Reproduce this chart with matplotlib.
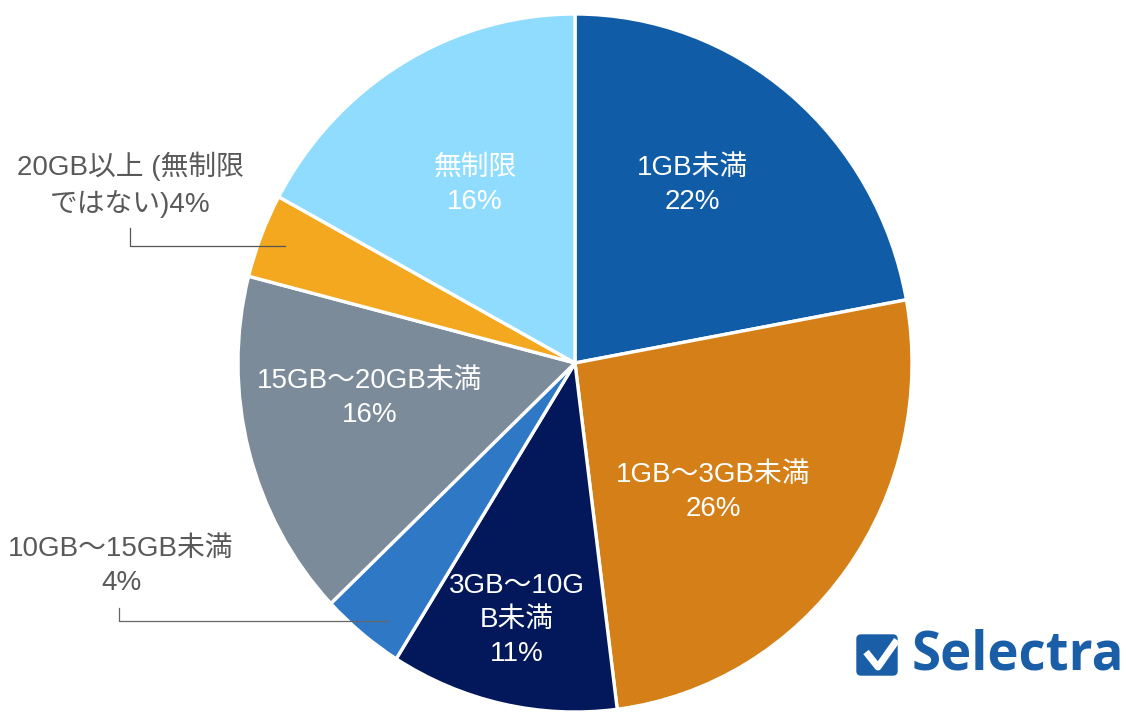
import matplotlib
matplotlib.use("Agg")
import matplotlib.pyplot as plt
from matplotlib.patches import FancyBboxPatch

plt.rcParams['font.family'] = ['Liberation Sans', 'Noto Sans CJK JP', 'DejaVu Sans']

# shares, printed labels are rounded differently
shares = [22.1, 25.9, 10.9, 4.0, 16.1, 3.9, 17.1]
labels = ["1GB未満\n22%", "1GB～3GB未満\n26%", "3GB～10G\nB未満\n11%", "10GB～15GB未満\n4%",
          "15GB～20GB未満\n16%", "20GB以上 (無制限\nではない)4%", "無制限\n16%"]
colors = ["#115ca6", "#d47f17", "#03185a", "#2f78c6", "#7c8b99", "#f4a81f", "#90dcff"]
text_colors = ["white", "white", "white", "#595959", "white", "#595959", "white"]
text_pos = [(692, 185), (713, 492), (517, 620), (121, 566), (370, 398), (130, 185), (475, 185)]

W, H = 1126, 712
cx, cy = 575, H - 363
fig = plt.figure(figsize=(W / 100, H / 100), dpi=100)
ax = fig.add_axes([0, 0, 1, 1])

wedges, _ = ax.pie(shares, colors=colors, startangle=90, counterclock=False,
                   center=(cx, cy), radius=337,
                   wedgeprops=dict(edgecolor="white", linewidth=2.4))
# the reference pie is a little taller than wide
ax.set_aspect("auto")
ax.set_xlim(0, W)
ax.set_ylim(0, H)
for w in wedges:
    w.set_transform(matplotlib.transforms.Affine2D().translate(-cx, -cy).scale(1, 349 / 337)
                    .translate(cx, cy) + ax.transData)

for lab, c, (x, y) in zip(labels, text_colors, text_pos):
    ax.text(x, H - y, lab, color=c, fontsize=20, ha="center", va="center", linespacing=1.4)

# leader lines
ax.plot([130, 130, 285], [H - 228, H - 246, H - 246], color="#555555", lw=0.9)
ax.plot([119, 119, 388], [H - 608, H - 621, H - 621], color="#666666", lw=0.9)

# logo
ax.add_patch(FancyBboxPatch((857, H - 675), 40, 40, boxstyle="round,pad=0,rounding_size=4",
                            fc="#1a5ea8", ec="#1a5ea8", lw=1))
ax.plot([866, 878, 897], [H - 652, H - 667, H - 640], color="white", lw=5, solid_capstyle="butt")
ax.text(912, H - 655, "Selectra", color="#1a5ea8", fontsize=38, fontweight="bold",
        family="Open Sans", ha="left", va="center")

ax.axis("off")
fig.savefig("out.png", dpi=100, facecolor="white")
